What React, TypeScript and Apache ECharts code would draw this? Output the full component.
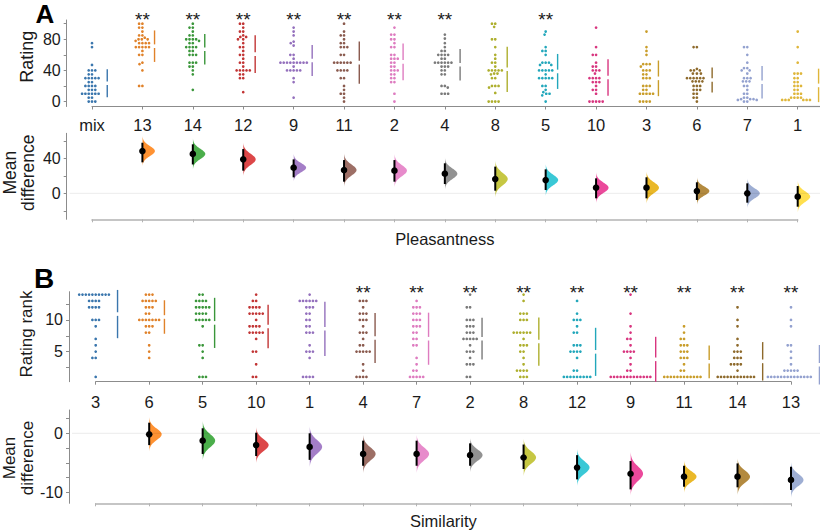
import React, { useEffect, useRef } from 'react';
import * as echarts from 'echarts';

const FONT = '"Liberation Sans", Arial, Helvetica, sans-serif';
const TEXT = '#1a1a1a';
const AXIS = '#8c8c8c';
const AXIS_MD = '#b3b3b3';

const violinColors = ['#1f77b4', '#ff7f0e', '#2ca02c', '#d62728', '#9467bd', '#8c564b', '#e377c2', '#7f7f7f', '#bcbd22', '#17becf', '#e7298a', '#e6ab02', '#a6761d', '#8da0cb', '#ffd92f'];
const swarmColors = ['#3a76ad', '#e0822a', '#3a963a', '#c23535', '#9470bd', '#8a5a4e', '#de7cc0', '#7a7a7a', '#aeaf2e', '#22a7bb', '#d8357f', '#c99d2a', '#8e6a2c', '#93a1cf', '#dfb63a'];

// ---------------- Panel A : Pleasantness ----------------
const categoriesA = ['mix', '13', '14', '12', '9', '11', '2', '4', '8', '5', '10', '3', '6', '7', '1'];
const ratingMix = [75, 70, 47, 40, 40, 40, 35, 35, 30, 30, 30, 30, 30, 25, 25, 20, 20, 20, 20, 15, 15, 15, 10, 10, 10, 10, 10, 10, 5, 5, 0, 0, 0];
const rating13 = [100, 100, 95, 95, 90, 85, 85, 82, 80, 80, 80, 78, 75, 75, 75, 75, 70, 70, 70, 70, 70, 65, 60, 60, 50, 48, 40, 20, 20];
const rating14 = [100, 95, 95, 90, 85, 85, 80, 80, 80, 80, 78, 75, 75, 70, 70, 70, 70, 65, 65, 60, 60, 60, 50, 50, 50, 45, 45, 40, 35, 15];
const rating12 = [100, 100, 95, 90, 90, 85, 83, 83, 80, 80, 75, 70, 70, 65, 60, 60, 55, 50, 50, 45, 40, 40, 40, 40, 40, 35, 35, 30, 30, 12];
const rating9 = [95, 90, 85, 77, 75, 72, 60, 60, 55, 50, 50, 50, 50, 50, 50, 50, 50, 50, 45, 40, 40, 40, 40, 40, 30, 25, 5];
const rating11 = [100, 90, 85, 85, 80, 75, 75, 70, 70, 70, 60, 60, 50, 50, 50, 50, 50, 50, 40, 40, 40, 40, 30, 30, 20, 15, 10, 10, 5, 0];
const rating2 = [95, 86, 86, 80, 80, 75, 70, 70, 60, 60, 55, 55, 55, 50, 50, 45, 45, 40, 40, 40, 35, 35, 30, 30, 25, 25, 10, 0];
const rating4 = [86, 81, 75, 70, 65, 65, 60, 60, 60, 60, 55, 55, 50, 50, 50, 50, 50, 50, 45, 45, 45, 40, 40, 35, 35, 20, 20, 18, 10, 10, 10];
const rating8 = [100, 100, 96, 80, 80, 70, 60, 55, 50, 50, 45, 40, 40, 40, 40, 40, 36, 36, 35, 30, 30, 20, 20, 20, 18, 11, 0, 0, 0, 0];
const rating5 = [90, 86, 70, 65, 65, 60, 50, 50, 50, 47, 47, 40, 40, 40, 40, 40, 35, 30, 30, 30, 30, 30, 20, 20, 15, 12, 10, 10, 8, 0];
const rating10 = [95, 70, 60, 60, 50, 45, 45, 40, 40, 40, 36, 30, 30, 30, 30, 25, 25, 25, 20, 15, 15, 10, 0, 0, 0, 0, 0];
const rating3 = [90, 70, 65, 60, 48, 48, 48, 45, 40, 40, 40, 35, 35, 30, 30, 30, 20, 20, 20, 15, 15, 10, 10, 10, 10, 10, 0, 0, 0, 0];
const rating6 = [70, 70, 42, 40, 40, 40, 36, 36, 36, 30, 30, 30, 30, 30, 30, 26, 26, 26, 26, 20, 20, 20, 15, 15, 15, 10, 10, 5, 5, 0];
const rating7 = [70, 70, 60, 50, 43, 43, 40, 40, 36, 30, 30, 30, 26, 26, 26, 20, 20, 15, 10, 10, 5, 5, 3, 3, 3, 2, 2, 0, 0];
const rating1 = [90, 70, 50, 36, 36, 36, 30, 30, 25, 25, 20, 20, 20, 15, 15, 10, 10, 10, 5, 5, 5, 5, 2, 2, 2, 2, 2, 2];
const ratingsA = [ratingMix, rating13, rating14, rating12, rating9, rating11, rating2, rating4, rating8, rating5, rating10, rating3, rating6, rating7, rating1];
const significantA = [false, true, true, true, true, true, true, true, false, true, false, false, false, false, false];
const meanDiffA = [null, 48.3, 45, 38.8, 29.3, 26.6, 25.9, 22.4, 16.3, 15.2, 6.4, 6.4, 2.6, 0, -3.8];
const ciLowA = [null, 35.4, 33, 25.9, 18.3, 13.3, 13.3, 10.6, 3, 3.8, -5.7, -5.7, -7.6, -10.7, -15.3];
const ciHighA = [null, 57.8, 56, 50.6, 38.8, 38, 38, 34.3, 30.5, 27.4, 17.1, 18.3, 12.6, 11.4, 8.3];
const ticksRatingA = [0, 20, 40, 60, 80, 100];
const labelsRatingA = [0, 40, 80];
const ticksDiffA = [-20, 0, 20, 40, 60];
const labelsDiffA = [0, 40];

// ---------------- Panel B : Similarity ----------------
const categoriesB = ['3', '6', '5', '10', '1', '4', '7', '2', '8', '12', '9', '11', '14', '13'];
const rank3 = [14, 14, 14, 14, 14, 14, 14, 14, 14, 14, 13, 13, 13, 13, 12, 12, 12, 12, 10, 10, 10, 9, 7, 6, 5, 4, 4, 1];
const rank6 = [14, 14, 14, 13, 13, 13, 13, 13, 12, 12, 12, 11, 11, 10, 10, 10, 10, 10, 10, 10, 9, 9, 9, 8, 8, 6, 5, 4];
const rank5 = [14, 14, 13, 13, 13, 13, 12, 12, 12, 12, 12, 11, 11, 11, 11, 10, 10, 10, 10, 10, 9, 6, 6, 5, 4, 1, 1, 1];
const rank10 = [14, 13, 13, 12, 12, 12, 12, 11, 11, 11, 11, 11, 10, 9, 9, 9, 9, 8, 8, 8, 8, 8, 7, 5, 5, 3, 1, 1];
const rank1 = [14, 13, 13, 13, 13, 13, 13, 12, 12, 12, 11, 11, 10, 10, 9, 9, 8, 8, 8, 6, 5, 5, 5, 4, 1, 1, 1, 1];
const rank4 = [13, 13, 13, 12, 11, 11, 11, 10, 10, 10, 9, 8, 8, 8, 7, 6, 6, 5, 5, 5, 5, 5, 3, 2, 1, 1, 1, 1];
const rank7 = [13, 12, 12, 12, 11, 11, 11, 10, 10, 10, 9, 9, 9, 8, 8, 7, 7, 6, 6, 4, 3, 2, 2, 1, 1, 1, 1, 1];
const rank2 = [14, 12, 12, 10, 10, 10, 9, 9, 9, 8, 8, 8, 7, 7, 7, 7, 7, 6, 5, 5, 5, 4, 3, 3, 3, 1, 1];
const rank8 = [14, 13, 11, 11, 11, 10, 10, 10, 8, 8, 8, 8, 8, 8, 7, 6, 6, 6, 5, 5, 4, 3, 2, 2, 2, 2, 1, 1, 1];
const rank12 = [13, 11, 10, 10, 10, 9, 8, 8, 6, 6, 6, 5, 5, 5, 5, 4, 2, 2, 1, 1, 1, 1, 1, 1, 1, 1, 1];
const rank9 = [14, 11, 9, 8, 7, 7, 6, 5, 5, 5, 5, 4, 3, 2, 2, 1, 1, 1, 1, 1, 1, 1, 1, 1, 1, 1, 1, 1];
const rank11 = [9, 8, 7, 7, 6, 6, 6, 5, 5, 5, 4, 4, 4, 3, 2, 2, 1, 1, 1, 1, 1, 1, 1, 1, 1, 1, 1, 1];
const rank14 = [12, 10, 9, 7, 6, 5, 5, 5, 4, 4, 4, 3, 3, 3, 3, 2, 1, 1, 1, 1, 1, 1, 1, 1, 1, 1, 1, 1];
const rank13 = [12, 10, 9, 6, 6, 5, 4, 3, 2, 2, 2, 2, 2, 1, 1, 1, 1, 1, 1, 1, 1, 1, 1, 1, 1, 1, 1];
const ranksB = [rank3, rank6, rank5, rank10, rank1, rank4, rank7, rank2, rank8, rank12, rank9, rank11, rank14, rank13];
const significantB = [false, false, false, false, false, true, true, true, true, true, true, true, true, true];
const meanDiffB = [null, -0.17, -1.25, -2.0, -2.3, -3.5, -3.5, -3.7, -4.1, -5.8, -6.85, -7.35, -7.35, -7.9];
const ciLowB = [null, -2.0, -3.5, -3.85, -4.5, -5.5, -5.5, -5.5, -6.05, -7.8, -9.5, -9.05, -9.15, -9.6];
const ciHighB = [null, 1.8, 0.85, 0.1, 0, -1.25, -1.25, -1.7, -1.9, -3.7, -4.7, -5.5, -5.1, -5.65];
const ticksRankB = [2.5, 5, 7.5, 10, 12.5];
const labelsRankB = [5, 10];
const ticksDiffB = [2.5, 0, -2.5, -5, -7.5, -10];
const labelsDiffB = [0, -10];

// ---------------- helpers ----------------
const DOT_R = 1.35;
const DOT_D = 3.3;
const VIOLIN_W = 12.5;

function meanSd(a: number[]) {
  const n = a.length;
  const m = a.reduce((s, v) => s + v, 0) / n;
  const v = a.reduce((s, x) => s + (x - m) * (x - m), 0) / (n - 1);
  return { m, sd: Math.sqrt(v) };
}

// beeswarm layout (pixel offsets), dots placed closest to centre without overlap
function swarmOffsets(ys: number[], d: number): number[] {
  const order = ys.map((_, i) => i).sort((a, b) => ys[a] - ys[b]);
  const placed: { x: number; y: number }[] = [];
  const xs = new Array(ys.length).fill(0);
  for (const i of order) {
    const y = ys[i];
    const nb = placed.filter((p) => Math.abs(p.y - y) < d);
    const cands = [0];
    for (const p of nb) {
      const dx = Math.sqrt(Math.max(0, d * d - (p.y - y) * (p.y - y)));
      cands.push(p.x - dx, p.x + dx);
    }
    cands.sort((a, b) => Math.abs(a) - Math.abs(b) || a - b);
    let chosen = 0;
    for (const c of cands) {
      if (nb.every((p) => (p.x - c) * (p.x - c) + (p.y - y) * (p.y - y) >= d * d - 0.01)) {
        chosen = c;
        break;
      }
    }
    xs[i] = chosen;
    placed.push({ x: chosen, y });
  }
  return xs;
}

const makeSwarm = (values: number[][], sig: boolean[], starDy: number, extendAxis: boolean) =>
  (params: any, api: any) => {
    const i = params.dataIndex;
    const vals = values[i];
    const cs = params.coordSys;
    const pts = vals.map((v) => api.coord([i, v]));
    const cx = pts[0][0];
    const offs = swarmOffsets(pts.map((p: number[]) => p[1]), DOT_D);
    const col = swarmColors[i];
    const children: any[] = pts.map((p: number[], k: number) => ({
      type: 'circle',
      shape: { cx: cx + offs[k], cy: p[1], r: DOT_R },
      style: { fill: col },
    }));
    const { m, sd } = meanSd(vals);
    const half = Math.max(...offs.map((o) => Math.abs(o)));
    const lx = cx + half + DOT_R + 4;
    const yT = api.coord([i, m + sd])[1];
    const yM = api.coord([i, m])[1];
    const yB = api.coord([i, m - sd])[1];
    children.push({ type: 'line', shape: { x1: lx, y1: yT, x2: lx, y2: yM - 1.8 }, style: { stroke: col, lineWidth: 1.4 } });
    children.push({ type: 'line', shape: { x1: lx, y1: yM + 1.8, x2: lx, y2: yB }, style: { stroke: col, lineWidth: 1.4 } });
    if (sig[i]) {
      children.push({
        type: 'text',
        x: cx,
        y: cs.y + starDy,
        style: { text: '**', font: `19px ${FONT}`, fill: TEXT, align: 'center', verticalAlign: 'middle' },
      });
    }
    if (extendAxis && i === values.length - 1) {
      const ay = cs.y + cs.height;
      children.push({ type: 'line', shape: { x1: cx, y1: ay, x2: api.getWidth(), y2: ay }, style: { stroke: AXIS, lineWidth: 1.2 } });
    }
    return { type: 'group', children };
  };

const diffData = (md: (number | null)[]) =>
  md.map((v, i) => (v === null ? null : [i, v])).filter((x) => x !== null) as number[][];

const makeViolin = (md: (number | null)[], lo: (number | null)[], hi: (number | null)[]) =>
  (params: any, api: any) => {
    const idx = diffData(md)[params.dataIndex][0];
    const m = md[idx] as number;
    const s = ((hi[idx] as number) - (lo[idx] as number)) / 3.92;
    const cx = api.coord([idx, m])[0];
    const pts: number[][] = [];
    const N = 48;
    for (let k = 0; k <= N; k++) {
      const z = -3 + (6 * k) / N;
      const w = VIOLIN_W * Math.exp(-0.5 * z * z);
      pts.push([cx + w, api.coord([idx, m + z * s])[1]]);
    }
    return { type: 'polygon', shape: { points: pts }, style: { fill: violinColors[idx], opacity: 0.85 } };
  };

const makeCI = (md: (number | null)[], lo: (number | null)[], hi: (number | null)[]) =>
  (params: any, api: any) => {
    const idx = diffData(md)[params.dataIndex][0];
    const [cx, cy] = api.coord([idx, md[idx]]);
    const yl = api.coord([idx, lo[idx]])[1];
    const yh = api.coord([idx, hi[idx]])[1];
    return {
      type: 'group',
      children: [
        { type: 'line', shape: { x1: cx, y1: yh, x2: cx, y2: yl }, style: { stroke: '#000', lineWidth: 2 } },
        { type: 'circle', shape: { cx, cy, r: 3.3 }, style: { fill: '#000' } },
      ],
    };
  };

const makeZero = (axisOffset: number) => (params: any, api: any) => {
  const cs = params.coordSys;
  const y = api.coord([0, 0])[1];
  return {
    type: 'line',
    shape: { x1: cs.x - axisOffset + 3, y1: y, x2: api.getWidth(), y2: y },
    style: { stroke: 'rgba(0,0,0,0.08)', lineWidth: 1 },
  };
};

const xCat = (gi: number, cats: string[], showLabels: boolean, lineColor: string, lineWidth: number, margin: number, name?: string, nameGap?: number) => ({
  type: 'category',
  gridIndex: gi,
  data: cats,
  boundaryGap: false,
  axisLine: { show: true, onZero: false, lineStyle: { color: lineColor, width: lineWidth } },
  axisTick: { show: true, length: 3, lineStyle: { color: lineColor } },
  axisLabel: { show: showLabels, interval: 0, fontSize: 16.5, fontFamily: FONT, color: TEXT, margin },
  splitLine: { show: false },
  name: name || '',
  nameLocation: 'middle',
  nameGap: nameGap || 0,
  nameTextStyle: { fontSize: 16.5, fontFamily: FONT, color: TEXT },
});

const yVal = (gi: number, min: number, max: number, ticks: number[], labels: number[], offset: number) => ({
  type: 'value',
  gridIndex: gi,
  min,
  max,
  offset,
  axisLine: { show: true, onZero: false, lineStyle: { color: AXIS, width: 1 } },
  axisTick: { show: true, length: 3, customValues: ticks, lineStyle: { color: AXIS } },
  axisLabel: { customValues: labels, fontSize: 16, fontFamily: FONT, color: TEXT, margin: 6 },
  splitLine: { show: false },
});

function buildOption() {
  const offA = 92 - 66.7;
  const offB = 95.7 - 69;
  return {
    animation: false,
    backgroundColor: '#ffffff',
    grid: [
      { left: 92, top: 20, width: 705.7, height: 86.5 },
      { left: 92, top: 133.3, width: 705.7, height: 86 },
      { left: 95.7, top: 291.7, width: 695.3, height: 90 },
      { left: 95.7, top: 410, width: 695.3, height: 93.3 },
    ],
    xAxis: [
      xCat(0, categoriesA, true, AXIS, 1.2, 10),
      xCat(1, categoriesA, false, AXIS_MD, 1.6, 8, 'Pleasantness', 11),
      xCat(2, categoriesB, true, AXIS, 1.2, 11.5),
      xCat(3, categoriesB, false, AXIS_MD, 1.6, 8, 'Similarity', 9),
    ],
    yAxis: [
      yVal(0, -6.4, 104.8, ticksRatingA, labelsRatingA, offA),
      yVal(1, -29.7, 68.6, ticksDiffA, labelsDiffA, offA),
      yVal(2, 0.25, 14.46, ticksRankB, labelsRankB, offB),
      yVal(3, -11.86, 3.95, ticksDiffB, labelsDiffB, offB),
    ],
    series: [
      {
        type: 'custom', xAxisIndex: 0, yAxisIndex: 0,
        data: categoriesA.map((_, i) => [i, 0]),
        renderItem: makeSwarm(ratingsA, significantA, -1, true),
      },
      { type: 'custom', xAxisIndex: 1, yAxisIndex: 1, data: diffData(meanDiffA), renderItem: makeViolin(meanDiffA, ciLowA, ciHighA) },
      { type: 'custom', xAxisIndex: 1, yAxisIndex: 1, data: [[0, 0]], renderItem: makeZero(offA) },
      { type: 'custom', xAxisIndex: 1, yAxisIndex: 1, data: diffData(meanDiffA), renderItem: makeCI(meanDiffA, ciLowA, ciHighA) },
      {
        type: 'custom', xAxisIndex: 2, yAxisIndex: 2,
        data: categoriesB.map((_, i) => [i, 0]),
        renderItem: makeSwarm(ranksB, significantB, 1, false),
      },
      { type: 'custom', xAxisIndex: 3, yAxisIndex: 3, data: diffData(meanDiffB), renderItem: makeViolin(meanDiffB, ciLowB, ciHighB) },
      { type: 'custom', xAxisIndex: 3, yAxisIndex: 3, data: [[0, 0]], renderItem: makeZero(offB) },
      { type: 'custom', xAxisIndex: 3, yAxisIndex: 3, data: diffData(meanDiffB), renderItem: makeCI(meanDiffB, ciLowB, ciHighB) },
    ],
    graphic: [
      { type: 'text', x: 45, y: 14, style: { text: 'A', font: `bold 26px ${FONT}`, fill: '#000', align: 'center', verticalAlign: 'middle' } },
      { type: 'text', x: 44, y: 278.5, style: { text: 'B', font: `bold 28px ${FONT}`, fill: '#000', align: 'center', verticalAlign: 'middle' } },
      { type: 'text', x: 26.7, y: 56.7, rotation: Math.PI / 2, style: { text: 'Rating', font: `18px ${FONT}`, fill: TEXT, align: 'center', verticalAlign: 'middle' } },
      { type: 'text', x: 18.5, y: 172.7, rotation: Math.PI / 2, style: { text: 'Mean\ndifference', font: `17.5px ${FONT}`, lineHeight: 18, fill: TEXT, align: 'center', verticalAlign: 'middle' } },
      { type: 'text', x: 26.7, y: 334, rotation: Math.PI / 2, style: { text: 'Rating rank', font: `17px ${FONT}`, fill: TEXT, align: 'center', verticalAlign: 'middle' } },
      { type: 'text', x: 18.5, y: 458, rotation: Math.PI / 2, style: { text: 'Mean\ndifference', font: `17px ${FONT}`, lineHeight: 18, fill: TEXT, align: 'center', verticalAlign: 'middle' } },
    ],
  };
}

export default function App() {
  const ref = useRef<HTMLDivElement>(null);
  useEffect(() => {
    const chart = echarts.init(ref.current as HTMLDivElement, null, { renderer: 'svg' });
    chart.setOption(buildOption() as any);
    return () => chart.dispose();
  }, []);
  return (
    <div
      ref={ref}
      style={{ position: 'fixed', left: 0, top: 0, width: 820, height: 532, background: '#fff' }}
    />
  );
}
